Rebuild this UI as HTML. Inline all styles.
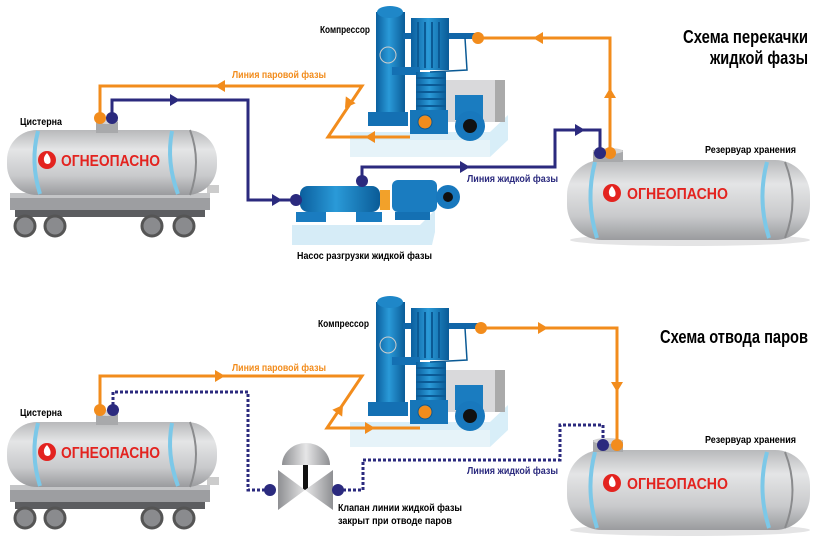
<!DOCTYPE html>
<html><head><meta charset="utf-8"><style>
html,body{margin:0;padding:0;background:#fff}
svg text{font-family:"Liberation Sans",sans-serif;font-weight:bold}
</style></head><body>
<svg width="818" height="539" viewBox="0 0 818 539" xmlns="http://www.w3.org/2000/svg">
<defs>
<linearGradient id="tank" x1="0" y1="0" x2="0" y2="1">
<stop offset="0" stop-color="#b8b9bb"/><stop offset="0.3" stop-color="#e4e5e6"/><stop offset="0.7" stop-color="#c9cacc"/><stop offset="1" stop-color="#9a9b9e"/></linearGradient>
<linearGradient id="blue" x1="0" y1="0" x2="1" y2="0">
<stop offset="0" stop-color="#0b5f9e"/><stop offset="0.45" stop-color="#2a9ad8"/><stop offset="1" stop-color="#0a5b97"/></linearGradient>
<linearGradient id="valve" x1="0" y1="0" x2="1" y2="0">
<stop offset="0" stop-color="#8e8f92"/><stop offset="0.5" stop-color="#e6e6e7"/><stop offset="1" stop-color="#8e8f92"/></linearGradient>
<g id="rail">
<rect x="10" y="193" width="200" height="17" fill="#9d9ea1"/>
<rect x="10" y="193" width="200" height="5" fill="#c4c5c7"/>
<rect x="15" y="210" width="190" height="7" fill="#5c5d60"/>
<rect x="207" y="185" width="12" height="8" fill="#ccc"/>
<g fill="#8a8b8e" stroke="#555" stroke-width="3">
<circle cx="25" cy="226" r="10"/><circle cx="55" cy="226" r="10"/><circle cx="152" cy="226" r="10"/><circle cx="184" cy="226" r="10"/></g>
<rect x="7" y="130" width="210" height="65" rx="30" fill="url(#tank)"/>
<path d="M190 130 Q202 162 190 195" stroke="#8a8b8d" stroke-width="2" fill="none"/>
<path d="M38 131 Q30 162 40 194" stroke="#7cc8e8" stroke-width="4" fill="none"/>
<path d="M172 131 Q166 162 178 194" stroke="#7cc8e8" stroke-width="4" fill="none"/>
<rect x="96" y="120" width="22" height="13" fill="#a8a9ab"/>
<ellipse cx="107" cy="121" rx="11" ry="3" fill="#d5d5d6"/>
<circle cx="47" cy="160" r="9" fill="#e3231f"/><path d="M47 153 q-5 5 -2 10 q3 2 5 0 q2-4 -3-10z" fill="#fff"/>
</g>
<g id="store">
<ellipse cx="690" cy="240" rx="120" ry="6" fill="#e4e4e5"/>
<rect x="567" y="160" width="243" height="80" rx="35" fill="url(#tank)"/>
<path d="M595 162 Q585 200 597 238" stroke="#7cc8e8" stroke-width="4" fill="none"/>
<path d="M767 162 Q757 200 769 238" stroke="#7cc8e8" stroke-width="4" fill="none"/>
<path d="M785 162 Q800 200 785 238" stroke="#8a8b8d" stroke-width="2" fill="none"/>
<rect x="593" y="150" width="30" height="12" fill="#a8a9ab"/>
<ellipse cx="608" cy="151" rx="15" ry="3" fill="#d5d5d6"/>
<circle cx="612" cy="193" r="9" fill="#e3231f"/><path d="M612 186 q-5 5 -2 10 q3 2 5 0 q2-4 -3-10z" fill="#fff"/>
</g>
<g id="comp">
<path d="M350 132 L490 132 L508 115 L508 140 L490 157 L350 157Z" fill="#d8eef8"/>
<rect x="350" y="140" width="140" height="17" fill="#e6f3f9"/>
<rect x="445" y="80" width="60" height="42" fill="#d9d9db"/><rect x="495" y="80" width="10" height="42" fill="#aaa"/>
<rect x="455" y="95" width="28" height="25" fill="#1a7cc0"/>
<circle cx="470" cy="126" r="15" fill="#1878bd"/><circle cx="470" cy="126" r="7" fill="#111"/>
<rect x="376" y="12" width="29" height="105" fill="url(#blue)"/>
<ellipse cx="390" cy="12" rx="13" ry="6" fill="#1f87c8"/>
<rect x="368" y="112" width="40" height="14" fill="#1470b3"/>
<circle cx="388" cy="55" r="8" fill="none" stroke="#ccc" stroke-width="1"/>
<rect x="403" y="33" width="76" height="6" fill="#1166a8"/>
<rect x="411" y="18" width="38" height="52" fill="url(#blue)"/>
<g stroke="#0b5a95" stroke-width="2"><line x1="418" y1="22" x2="418" y2="68"/><line x1="425" y1="22" x2="425" y2="68"/><line x1="432" y1="22" x2="432" y2="68"/><line x1="439" y1="22" x2="439" y2="68"/></g>
<rect x="392" y="67" width="28" height="8" fill="#1470b3"/>
<rect x="416" y="72" width="30" height="40" fill="url(#blue)"/>
<g stroke="#0b5a95" stroke-width="2"><line x1="416" y1="78" x2="446" y2="78"/><line x1="416" y1="85" x2="446" y2="85"/><line x1="416" y1="92" x2="446" y2="92"/><line x1="416" y1="99" x2="446" y2="99"/><line x1="416" y1="106" x2="446" y2="106"/></g>
<rect x="410" y="110" width="38" height="24" fill="#1676b9"/>
<circle cx="425" cy="122" r="7" fill="#f28c1c" stroke="#0b5a95"/>
<path d="M465 38 L467 70 L430 72" stroke="#0b5a95" stroke-width="1.5" fill="none"/>
</g>
<path id="al" d="M0 0 l10 -6 v12z"/>
</defs>

<!-- TOP -->
<use href="#rail"/>
<use href="#store"/>
<use href="#comp"/>
<rect x="292" y="225" width="140" height="20" fill="#e2f1f8"/>
<path d="M292 225 L420 225 L435 210 L435 232 L432 245 L292 245Z" fill="#d6ecf7"/>
<rect x="296" y="212" width="30" height="10" fill="#1a7cc0"/><rect x="356" y="212" width="26" height="10" fill="#1a7cc0"/>
<rect x="300" y="186" width="80" height="26" rx="8" fill="url(#blue)"/>
<rect x="380" y="190" width="10" height="20" fill="#f2a12a"/>
<rect x="392" y="180" width="45" height="32" rx="6" fill="#1a7cc0"/>
<circle cx="448" cy="197" r="12" fill="#1878bd"/><circle cx="448" cy="197" r="5" fill="#111"/>
<rect x="395" y="212" width="35" height="8" fill="#1470b3"/>

<g fill="none" stroke-width="3">
<path d="M100 118 V86 H362 L328 137 H410" stroke="#f28c1c"/>
<path d="M478 38 H610 V150" stroke="#f28c1c"/>
<path d="M112 118 V100 H248 V200 H295" stroke="#2b2a7e"/>
<path d="M362 180 V167 H555 V130 H600 V152" stroke="#2b2a7e"/>
</g>
<g fill="#f28c1c">
<use href="#al" transform="translate(215,86)"/><use href="#al" transform="translate(365,137)"/><use href="#al" transform="translate(533,38)"/>
<use href="#al" transform="translate(345,108) rotate(-55)"/><use href="#al" transform="translate(610,88) rotate(90)"/>
<circle cx="100" cy="118" r="6"/><circle cx="478" cy="38" r="6"/><circle cx="610" cy="153" r="6"/>
</g>
<g fill="#2b2a7e">
<use href="#al" transform="translate(180,100) rotate(180)"/><use href="#al" transform="translate(282,200) rotate(180)"/>
<use href="#al" transform="translate(470,167) rotate(180)"/><use href="#al" transform="translate(585,130) rotate(180)"/>
<circle cx="112" cy="118" r="6"/><circle cx="296" cy="200" r="6"/><circle cx="362" cy="181" r="6"/><circle cx="600" cy="153" r="6"/>
</g>
<g lengthAdjust="spacingAndGlyphs">
<text x="232" y="78" font-size="10" fill="#f28c1c" textLength="94" lengthAdjust="spacingAndGlyphs">Линия паровой фазы</text>
<text x="467" y="182" font-size="10" fill="#2b2a7e" textLength="91" lengthAdjust="spacingAndGlyphs">Линия жидкой фазы</text>
<text x="320" y="33" font-size="10" textLength="50" lengthAdjust="spacingAndGlyphs">Компрессор</text>
<text x="20" y="125" font-size="10" textLength="42" lengthAdjust="spacingAndGlyphs">Цистерна</text>
<text x="705" y="153" font-size="10" textLength="91" lengthAdjust="spacingAndGlyphs">Резервуар хранения</text>
<text x="297" y="259" font-size="10" textLength="135" lengthAdjust="spacingAndGlyphs">Насос разгрузки жидкой фазы</text>
<text x="61" y="166" font-size="16" fill="#e3231f" textLength="99" lengthAdjust="spacingAndGlyphs">ОГНЕОПАСНО</text>
<text x="627" y="199" font-size="16" fill="#e3231f" textLength="101" lengthAdjust="spacingAndGlyphs">ОГНЕОПАСНО</text>
<text x="683" y="43" font-size="18" textLength="125" lengthAdjust="spacingAndGlyphs">Схема перекачки</text>
<text x="710" y="64" font-size="18" textLength="98" lengthAdjust="spacingAndGlyphs">жидкой фазы</text>
</g>

<!-- BOTTOM -->
<use href="#rail" transform="translate(0,292)"/>
<use href="#store" transform="translate(0,290)"/>
<use href="#comp" transform="translate(0,290)"/>
<path d="M282 465 A24 22 0 0 1 330 465Z" fill="url(#valve)"/>
<rect x="303" y="465" width="5" height="25" fill="#111"/>
<path d="M278 470 L305 490 L278 510Z M333 470 L305 490 L333 510Z" fill="url(#valve)"/>

<g fill="none" stroke-width="3">
<path d="M100 410 V376 H362 L327 428 H420" stroke="#f28c1c"/>
<path d="M481 328 H617 V440" stroke="#f28c1c"/>
<path d="M113 410 V392 H248 V490 H270" stroke="#2b2a7e" stroke-dasharray="3 2"/>
<path d="M338 490 H363 V460 H560 V425 H603 V445" stroke="#2b2a7e" stroke-dasharray="3 2"/>
</g>
<g fill="#f28c1c">
<use href="#al" transform="translate(225,376) rotate(180)"/><use href="#al" transform="translate(375,428) rotate(180)"/><use href="#al" transform="translate(548,328) rotate(180)"/>
<use href="#al" transform="translate(343,405) rotate(125)"/><use href="#al" transform="translate(617,392) rotate(-90)"/>
<circle cx="100" cy="410" r="6"/><circle cx="481" cy="328" r="6"/><circle cx="617" cy="445" r="6"/>
</g>
<g fill="#2b2a7e">
<circle cx="113" cy="410" r="6"/><circle cx="270" cy="490" r="6"/><circle cx="338" cy="490" r="6"/><circle cx="603" cy="445" r="6"/>
</g>
<text x="232" y="371" font-size="10" fill="#f28c1c" textLength="94" lengthAdjust="spacingAndGlyphs">Линия паровой фазы</text>
<text x="467" y="474" font-size="10" fill="#2b2a7e" textLength="91" lengthAdjust="spacingAndGlyphs">Линия жидкой фазы</text>
<text x="318" y="327" font-size="10" textLength="51" lengthAdjust="spacingAndGlyphs">Компрессор</text>
<text x="20" y="416" font-size="10" textLength="42" lengthAdjust="spacingAndGlyphs">Цистерна</text>
<text x="705" y="443" font-size="10" textLength="91" lengthAdjust="spacingAndGlyphs">Резервуар хранения</text>
<text x="338" y="511" font-size="10" textLength="124" lengthAdjust="spacingAndGlyphs">Клапан линии жидкой фазы</text>
<text x="338" y="524" font-size="10" textLength="114" lengthAdjust="spacingAndGlyphs">закрыт при отводе паров</text>
<text x="61" y="458" font-size="16" fill="#e3231f" textLength="99" lengthAdjust="spacingAndGlyphs">ОГНЕОПАСНО</text>
<text x="627" y="489" font-size="16" fill="#e3231f" textLength="101" lengthAdjust="spacingAndGlyphs">ОГНЕОПАСНО</text>
<text x="660" y="343" font-size="18" textLength="148" lengthAdjust="spacingAndGlyphs">Схема отвода паров</text>
</svg>
</body></html>
